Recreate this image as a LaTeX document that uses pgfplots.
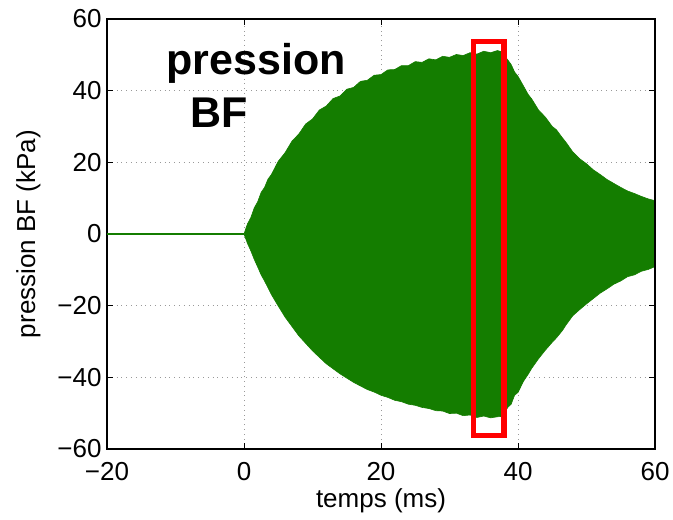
\documentclass[border=0pt]{standalone}
\usepackage{fontspec}
\setmainfont{Liberation Sans}
\usepackage{pgfplots}
\pgfplotsset{compat=1.18}
\definecolor{mgreen}{RGB}{20,125,0}
\begin{document}
\begin{tikzpicture}
\begin{axis}[
  name=ax,
  scale only axis,
  width=274pt, height=215pt,
  xmin=-20, xmax=60, ymin=-60, ymax=60,
  xtick={-20,0,20,40,60},
  xticklabels={−20,0,20,40,60},
  ytick={-60,-40,-20,0,20,40,60},
  yticklabels={−60,−40,−20,0,20,40,60},
  tick align=inside,
  major tick length=3pt,
  tick style={black, line width=0.5pt},
  axis line style={black, line width=0.6pt},
  grid=major,
  grid style={gray!80, line width=0.4pt, dash pattern=on 0.4pt off 2pt},
  every tick label/.append style={font=\fontsize{13}{15}\selectfont},
  xticklabel style={anchor=north, inner sep=0pt, yshift=-6.5pt},
  yticklabel style={anchor=east, inner sep=0pt, xshift=-2.5pt},
  xlabel={temps (ms)},
  ylabel={pression BF (kPa)},
  label style={font=\fontsize{13}{15}\selectfont},
  xlabel style={at={(axis description cs:0.5,-0.135)}, anchor=base},
  ylabel style={at={(axis description cs:-0.131,0.5)}, anchor=base},
  clip=false,
]
\addplot[mgreen, line width=0.7pt] coordinates {(-20,0) (0,0)};
\addplot[fill=mgreen, draw=mgreen, line width=0.3pt] coordinates {
(0,0) (0.5,2.8) (1,4.6) (1.5,7.3) (2,9.0) (2.5,11.6) (3,13.0) (3.5,15.3) (4,16.6)
(5,20.3) (6,22.7) (7,25.9) (8,27.9) (9,30.7) (10,32.1) (11,34.6) (12,35.7) (13,37.8)
(14,38.5) (15,40.4) (16,40.9) (17,42.6) (18,42.9) (19,44.3) (20,44.5) (21,45.8)
(22,45.9) (23,47.0) (24,47.0) (25,48.1) (26,47.9) (27,48.9) (28,48.6) (29,49.6)
(30,49.3) (31,50.1) (32,49.8) (33,50.6) (34,50.2) (35,51.0) (36,50.6) (37,51.2)
(37.7,50.8) (38,49.8) (38.5,48.6) (39,47.3) (39.5,45.2) (40,44.0) (40.8,41.3)
(41.5,38.9) (42,37.7) (43,34.6) (44,32.6) (45,30.0) (45.6,29.1) (46.5,26.8) (47,25.6)
(48,22.9) (49,21.0) (50,19.6) (51,17.9) (52,16.6) (53,15.2) (54,14.1) (55,13.0)
(56,12.0) (57,11.3) (58,10.5) (59,9.8) (60,9.3)
(60,-9.1) (59,-9.9) (58,-10.4) (57,-11.4) (56,-11.9) (55,-13.1) (54,-14.0) (53,-15.3)
(52,-16.5) (51,-18.0) (50,-19.5) (49,-21.1) (48,-22.8) (47,-25.4) (46.5,-26.9)
(45.6,-29.0) (45,-30.2) (44,-32.4) (43,-34.8) (42,-37.5) (41.5,-39.1) (40.8,-41.1)
(40,-44.2) (39.5,-45.0) (39,-47.5) (38.5,-48.4) (38,-50.1) (37.7,-50.9) (37,-51.0)
(36,-51.3) (35,-50.8) (34,-51.2) (33,-50.5) (32,-50.7) (31,-50.0) (30,-50.1)
(29,-49.4) (28,-49.3) (27,-48.7) (26,-48.4) (25,-47.8) (24,-47.5) (23,-46.8)
(22,-46.4) (21,-45.6) (20,-45.0) (19,-44.1) (18,-43.4) (17,-42.4) (16,-41.4)
(15,-40.2) (14,-39.0) (13,-37.6) (12,-36.2) (11,-34.4) (10,-32.6) (9,-30.5)
(8,-28.4) (7,-25.8) (6,-23.2) (5,-20.1) (4,-16.9) (3,-13.1) (2.5,-11.4) (2,-9.2)
(1.5,-7.1) (1,-4.7) (0.5,-2.6) (0,0)
} -- cycle;
\addplot[red, line width=2.6pt, line join=miter] coordinates {
(33.5,-56.2) (33.5,53.8) (37.96,53.8) (37.96,-56.2)} -- cycle;
\draw[black, line width=0.6pt] (rel axis cs:1,0) -- (rel axis cs:1,1);
\node[anchor=base, font=\fontsize{21.5}{24}\selectfont\bfseries] at (axis cs:1.75,44.4) {pression};
\node[anchor=base, font=\fontsize{21.5}{24}\selectfont\bfseries] at (axis cs:-3.58,29.6) {BF};
\end{axis}
\path ([xshift=-53.5pt,yshift=-34pt]ax.south west) ([xshift=9pt,yshift=9.5pt]ax.north east);
\end{tikzpicture}
\end{document}
